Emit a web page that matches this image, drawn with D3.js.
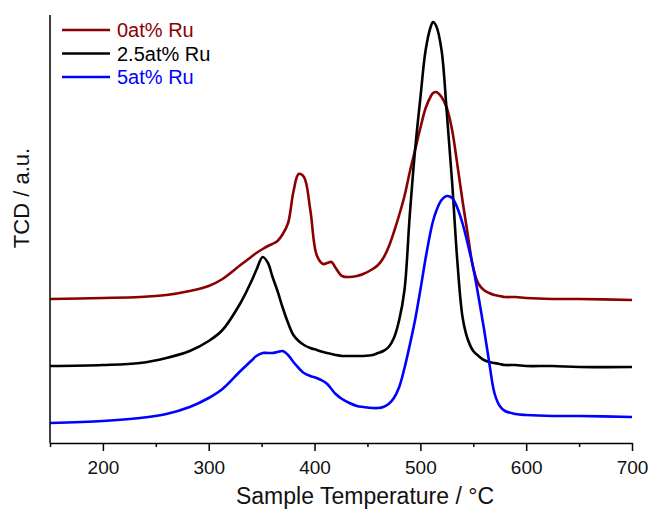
<!DOCTYPE html>
<html>
<head>
<meta charset="utf-8">
<script src="https://cdn.jsdelivr.net/npm/d3@7"></script>
<style>
  body { margin: 0; background: #fff; }
  svg { font-family: Arial, "Liberation Sans", sans-serif; }
</style>
</head>
<body>
<div id="chart"></div>
<script>
// temperatures (°C) shared by all three TPR traces
var temps = [150, 200, 235, 260, 282, 300, 313, 330, 340, 345, 351, 356, 360, 365, 370, 375, 380, 385, 390, 396,
    402, 408, 412, 416, 420, 426, 433, 440, 446, 455, 460, 465, 470, 475, 480, 485, 490, 495, 500, 505,
    510, 512, 515, 520, 525, 530, 535, 540, 545, 550, 555, 560, 565, 570, 575, 580, 590, 600, 625, 650, 700];

// TCD signal (a.u.), already offset per trace
var ru0 = [144, 145, 146, 148, 152, 157, 164, 178, 186, 190, 194, 197, 199, 202, 209, 220, 251, 269, 266, 233,
    188, 179, 180, 181, 175, 167, 166, 167, 169, 174, 178, 185, 196, 211, 228, 247, 271, 293, 315, 335,
    347, 350, 351, 346, 335, 313, 278, 241, 207, 175, 159, 153, 150, 148, 147, 146, 146, 145, 144, 144, 143];
var ru25 = [77, 78, 80, 85, 92, 102, 113, 140, 161, 173, 186, 180, 167, 152, 135, 120, 108, 102, 98, 95,
    93, 91, 90, 89, 88, 87, 87, 87, 87, 88, 90, 92, 96, 105, 123, 153, 228, 293, 345, 393,
    417, 421, 417, 393, 330, 261, 181, 125, 103, 92, 87, 83, 81, 80, 79, 78, 78, 77, 77, 76, 76];
var ru5 = [20, 22, 25, 29, 36, 45, 54, 72, 82, 87, 90, 90, 90, 91, 92, 88, 81, 75, 70, 67,
    65, 62, 59, 54, 49, 44, 40, 37, 36, 35, 35, 36, 39, 45, 56, 75, 98, 123, 153, 185,
    213, 222, 232, 243, 247, 245, 235, 219, 198, 175, 146, 115, 81, 50, 37, 32, 29, 28, 27, 27, 26];

var names = ["0at% Ru", "2.5at% Ru", "5at% Ru"];
var colors = ["#8b0000", "#000000", "#0000ff"];
var majorTicks = [200, 300, 400, 500, 600, 700];
var minorTicks = [150, 250, 350, 450, 550, 650];

var width = 653, height = 509;
var margin = { top: 15, right: 21, bottom: 66, left: 50 };

var svg = d3.select("#chart").append("svg")
    .attr("width", width)
    .attr("height", height);

var x = d3.scaleLinear().domain([150, 700]).range([margin.left, width - margin.right]);
var y = d3.scaleLinear().domain([0, 428]).range([height - margin.bottom, margin.top]);

var series = [ru0, ru25, ru5];

var line = d3.line()
    .x(function (d) { return x(d[0]); })
    .y(function (d) { return y(d[1]); })
    .curve(d3.curveCatmullRom.alpha(0.5));

series.forEach(function (vals, i) {
    var pts = temps.map(function (t, j) { return [t, vals[j]]; });
    svg.append("path")
        .datum(pts)
        .attr("d", line)
        .attr("fill", "none")
        .attr("stroke", colors[i])
        .attr("stroke-width", 2.6)
        .attr("stroke-linejoin", "round");
});

// bottom axis: major ticks with labels, minor without
var xAxis = svg.append("g")
    .attr("transform", "translate(0," + y(0) + ")")
    .call(d3.axisBottom(x).tickValues(majorTicks).tickSize(8).tickSizeOuter(0).tickFormat(d3.format("d")));
svg.append("g")
    .attr("transform", "translate(0," + y(0) + ")")
    .call(d3.axisBottom(x).tickValues(minorTicks).tickSize(4).tickSizeOuter(0).tickFormat(""))
    .select(".domain").remove();

xAxis.select(".domain").attr("stroke-width", 1.5);
svg.selectAll(".tick line").attr("stroke-width", 1.5);
xAxis.selectAll(".tick text")
    .attr("font-size", 19)
    .attr("font-family", "Arial, 'Liberation Sans', sans-serif")
    .attr("fill", "#111")
    .attr("dy", "1.05em");

// left axis line, no ticks
svg.append("line")
    .attr("x1", x(150)).attr("x2", x(150))
    .attr("y1", y(428)).attr("y2", y(0))
    .attr("stroke", "#000")
    .attr("stroke-width", 1.5);

svg.append("text")
    .attr("x", 365)
    .attr("y", 504)
    .attr("text-anchor", "middle")
    .attr("font-size", 23)
    .attr("fill", "#111")
    .text("Sample Temperature / °C");

svg.append("text")
    .attr("transform", "translate(29,198) rotate(-90)")
    .attr("text-anchor", "middle")
    .attr("font-size", 22)
    .attr("fill", "#111")
    .text("TCD / a.u.");

// legend
var legend = svg.selectAll(".legend").data(names).enter().append("g")
    .attr("transform", function (d, i) { return "translate(62," + (30 + i * 23.5) + ")"; });
legend.append("line")
    .attr("x1", 0).attr("x2", 48)
    .attr("stroke", function (d, i) { return colors[i]; })
    .attr("stroke-width", 2.6);
legend.append("text")
    .attr("x", 55)
    .attr("dy", "0.35em")
    .attr("font-size", 20)
    .attr("fill", function (d, i) { return colors[i]; })
    .text(function (d) { return d; });
</script>
</body>
</html>
